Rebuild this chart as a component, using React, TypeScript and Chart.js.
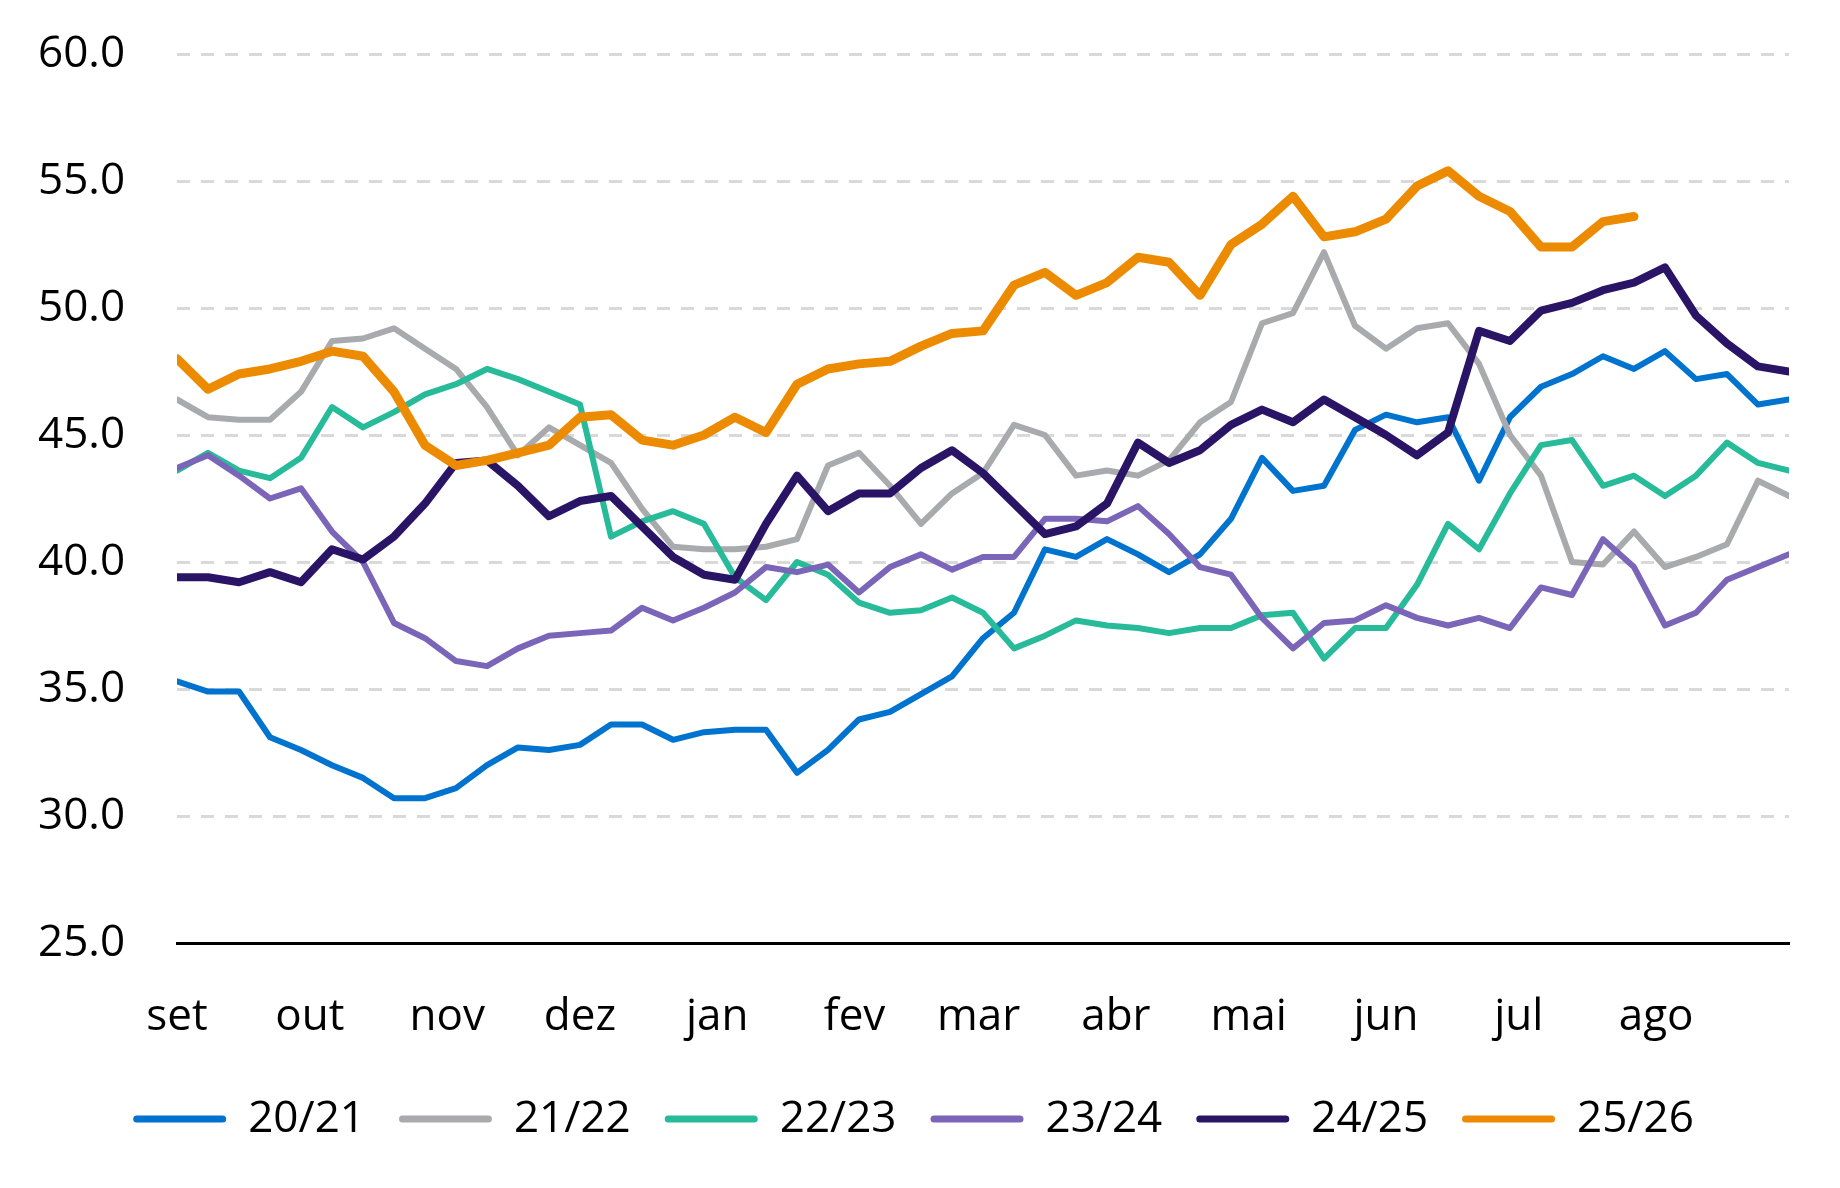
import React, { useRef, useEffect } from 'react';
import { Chart, registerables } from 'chart.js';

Chart.register(...registerables);

const MONTHS = ['set', 'out', 'nov', 'dez', 'jan', 'fev', 'mar', 'abr', 'mai', 'jun', 'jul', 'ago'];
const MONTH_DAYS = [30, 31, 30, 31, 31, 28, 31, 30, 31, 30, 31, 31];

const SEASONS = ['20/21', '21/22', '22/23', '23/24', '24/25', '25/26'];

const S2021 = [35.3, 34.9, 34.9, 33.1, 32.6, 32.0, 31.5, 30.7, 30.7, 31.1, 32.0, 32.7, 32.6, 32.8, 33.6, 33.6, 33.0, 33.3, 33.4, 33.4, 31.7, 32.6, 33.8, 34.1, 34.8, 35.5, 37.0, 38.0, 40.5, 40.2, 40.9, 40.3, 39.6, 40.3, 41.7, 44.1, 42.8, 43.0, 45.2, 45.8, 45.5, 45.7, 43.2, 45.7, 46.9, 47.4, 48.1, 47.6, 48.3, 47.2, 47.4, 46.2, 46.4];
const S2122 = [46.4, 45.7, 45.6, 45.6, 46.7, 48.7, 48.8, 49.2, 48.4, 47.6, 46.1, 44.2, 45.3, 44.6, 43.9, 42.1, 40.6, 40.5, 40.5, 40.6, 40.9, 43.8, 44.3, 43.0, 41.5, 42.7, 43.5, 45.4, 45.0, 43.4, 43.6, 43.4, 44.0, 45.5, 46.3, 49.4, 49.8, 52.2, 49.3, 48.4, 49.2, 49.4, 47.8, 45.0, 43.4, 40.0, 39.9, 41.2, 39.8, 40.2, 40.7, 43.2, 42.6];
const S2223 = [43.6, 44.3, 43.6, 43.3, 44.1, 46.1, 45.3, 45.9, 46.6, 47.0, 47.6, 47.2, 46.7, 46.2, 41.0, 41.6, 42.0, 41.5, 39.4, 38.5, 40.0, 39.5, 38.4, 38.0, 38.1, 38.6, 38.0, 36.6, 37.1, 37.7, 37.5, 37.4, 37.2, 37.4, 37.4, 37.9, 38.0, 36.2, 37.4, 37.4, 39.1, 41.5, 40.5, 42.7, 44.6, 44.8, 43.0, 43.4, 42.6, 43.4, 44.7, 43.9, 43.6];
const S2324 = [43.7, 44.2, 43.4, 42.5, 42.9, 41.2, 40.0, 37.6, 37.0, 36.1, 35.9, 36.6, 37.1, 37.2, 37.3, 38.2, 37.7, 38.2, 38.8, 39.8, 39.6, 39.9, 38.8, 39.8, 40.3, 39.7, 40.2, 40.2, 41.7, 41.7, 41.6, 42.2, 41.1, 39.8, 39.5, 37.8, 36.6, 37.6, 37.7, 38.3, 37.8, 37.5, 37.8, 37.4, 39.0, 38.7, 40.9, 39.8, 37.5, 38.0, 39.3, 39.8, 40.3];
const S2425 = [39.4, 39.4, 39.2, 39.6, 39.2, 40.5, 40.1, 41.0, 42.3, 43.9, 44.0, 43.0, 41.8, 42.4, 42.6, 41.4, 40.2, 39.5, 39.3, 41.5, 43.4, 42.0, 42.7, 42.7, 43.7, 44.4, 43.5, 42.3, 41.1, 41.4, 42.3, 44.7, 43.9, 44.4, 45.4, 46.0, 45.5, 46.4, 45.7, 45.0, 44.2, 45.1, 49.1, 48.7, 49.9, 50.2, 50.7, 51.0, 51.6, 49.7, 48.6, 47.7, 47.5];
const S2526 = [48.0, 46.8, 47.4, 47.6, 47.9, 48.3, 48.1, 46.7, 44.6, 43.8, 44.0, 44.3, 44.6, 45.7, 45.8, 44.8, 44.6, 45.0, 45.7, 45.1, 47.0, 47.6, 47.8, 47.9, 48.5, 49.0, 49.1, 50.9, 51.4, 50.5, 51.0, 52.0, 51.8, 50.5, 52.5, 53.3, 54.4, 52.8, 53.0, 53.5, 54.8, 55.4, 54.4, 53.8, 52.4, 52.4, 53.4, 53.6];

const SERIES = [S2021, S2122, S2223, S2324, S2425, S2526];
const COLORS = ['#0073cf', '#a9aaad', '#27bb9a', '#7b65b8', '#2a1466', '#ec8b00'];
const WIDTHS = [6, 6, 6, 6, 8, 9];

const FONT = "'Open Sans', 'Noto Sans', sans-serif";
const FONT_SIZE = 44;
const WEEKS = 52;

// month start positions, in weeks from 1 Sep
const monthPos: number[] = [];
MONTH_DAYS.reduce((acc, d) => { monthPos.push(acc / 7); return acc + d; }, 0);

const App: React.FC = () => {
  const chartRef = useRef<HTMLCanvasElement>(null);
  const chartInstance = useRef<Chart | null>(null);

  useEffect(() => {
    if (!chartRef.current) return;
    const ctx = chartRef.current.getContext('2d');
    if (!ctx) return;
    if (chartInstance.current) chartInstance.current.destroy();

    chartInstance.current = new Chart(ctx, {
      type: 'line',
      data: {
        datasets: SEASONS.map((label, i) => ({
          label,
          data: SERIES[i].map((v, w) => ({ x: w, y: v })),
          borderColor: COLORS[i],
          backgroundColor: COLORS[i],
          borderWidth: WIDTHS[i],
          borderJoinStyle: 'round' as const,
          borderCapStyle: 'round' as const,
          pointRadius: 0,
          tension: 0,
          fill: false,
          order: SEASONS.length - i,
        })),
      },
      options: {
        animation: false,
        responsive: true,
        maintainAspectRatio: false,
        events: [],
        layout: { padding: { left: 38, right: 51, top: 54, bottom: 37 } },
        plugins: {
          tooltip: { enabled: false },
          legend: {
            position: 'bottom',
            labels: {
              boxWidth: 93,
              boxHeight: 7,
              useBorderRadius: true,
              borderRadius: 3.5,
              padding: 34,
              color: '#000',
              font: { family: FONT, size: FONT_SIZE },
              sort: (a, b) => (a.datasetIndex ?? 0) - (b.datasetIndex ?? 0),
              generateLabels: (chart) =>
                Chart.defaults.plugins.legend.labels.generateLabels(chart).map((item) => ({ ...item, lineWidth: 0 })),
            },
          },
        },
        scales: {
          x: {
            type: 'linear',
            min: 0,
            max: WEEKS,
            afterFit: (axis) => { axis.height = 120; },
            afterBuildTicks: (axis) => { axis.ticks = monthPos.map((v) => ({ value: v })); },
            grid: { display: true, drawOnChartArea: false, drawTicks: false },
            border: { display: true, color: '#000', width: 3 },
            ticks: {
              autoSkip: false,
              maxRotation: 0,
              padding: 48,
              color: '#000',
              font: { family: FONT, size: FONT_SIZE },
              callback: (_v, index) => MONTHS[index],
            },
          },
          y: {
            min: 25,
            max: 60,
            afterFit: (axis) => { axis.width = 139; },
            grid: {
              drawTicks: false,
              lineWidth: 3,
              color: (c) => (c.tick && c.tick.value === 25 ? 'rgba(0,0,0,0)' : '#d9d9d9'),
            },
            border: { display: false, dash: [13, 11] },
            ticks: {
              stepSize: 5,
              padding: 0,
              crossAlign: 'far',
              color: '#000',
              font: { family: FONT, size: FONT_SIZE },
              callback: (v) => Number(v).toFixed(1),
            },
          },
        },
      },
    });

    return () => {
      if (chartInstance.current) {
        chartInstance.current.destroy();
        chartInstance.current = null;
      }
    };
  }, []);

  return (
    <div style={{ position: 'absolute', left: 0, top: 0, width: 1840, height: 1188, background: '#fff' }}>
      <canvas ref={chartRef} />
    </div>
  );
};

export default App;
